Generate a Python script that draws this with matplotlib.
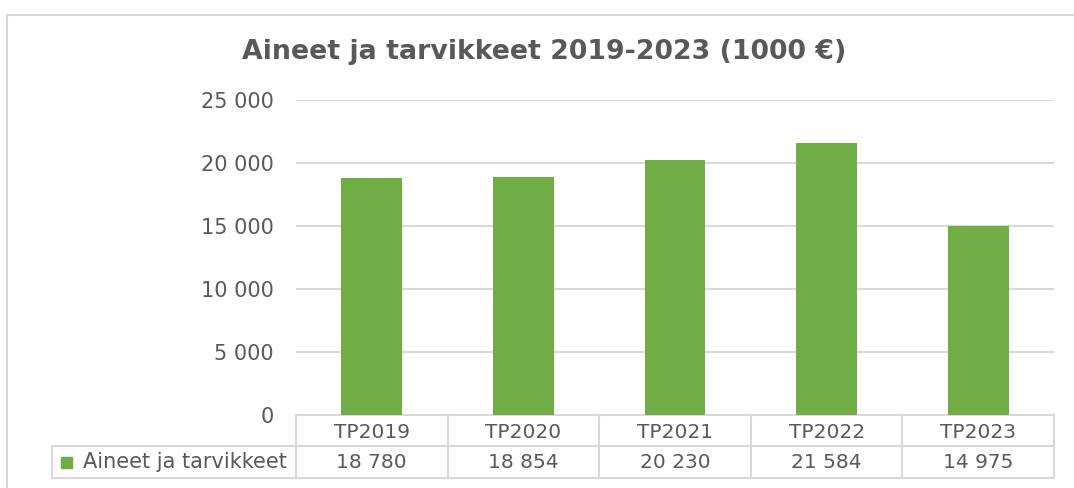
import numpy as np
import matplotlib
matplotlib.use("Agg")
import matplotlib.pyplot as plt
from matplotlib.lines import Line2D
from matplotlib.transforms import blended_transform_factory

# data
categories = ["TP2019", "TP2020", "TP2021", "TP2022", "TP2023"]
values = [18780, 18854, 20230, 21584, 14975]
series_name = "Aineet ja tarvikkeet"
title = "Aineet ja tarvikkeet 2019-2023 (1000 €)"
yticks = [0, 5000, 10000, 15000, 20000, 25000]

GREEN = "#70AD47"
TEXT = "#595959"
GRID = "#D9D9D9"

W, H = 1074, 488
fig = plt.figure(figsize=(W / 100, H / 100), dpi=100)
plt.rcParams["font.family"] = ["DejaVu Sans"]


def fx(px):
    return px / W


def fy(py):
    return 1 - py / H


# outer chart border (cut off at right/bottom)
fig.add_artist(Line2D([fx(7.5), fx(7.5)], [fy(14.5), 0], color=GRID, lw=1.5))
fig.add_artist(Line2D([fx(7.5), 1.01], [fy(14.5), fy(14.5)], color=GRID, lw=1.5))

left, right, top, bottom = 296, 1054, 100, 415
ax = fig.add_axes([fx(left), fy(bottom), fx(right - left), (bottom - top) / H])

x = np.arange(len(categories))
ax.bar(x, values, width=0.40, color=GREEN, zorder=3)
ax.set_xlim(-0.5, len(categories) - 0.5)
ax.set_ylim(0, 25000)
ax.set_yticks(yticks)
ax.set_yticklabels([f"{v:,}".replace(",", " ") for v in yticks])
ax.tick_params(axis="y", length=0, pad=16, labelsize=15, labelcolor=TEXT)
ax.tick_params(axis="x", length=0, labelbottom=False)
ax.grid(axis="y", color=GRID, lw=1.5, zorder=0)
for s in ax.spines.values():
    s.set_visible(False)

fig.text(fx(544), fy(52), title, ha="center", va="center", fontsize=19.3,
         fontweight="bold", color=TEXT)

# data table below the axes
trans = blended_transform_factory(ax.transData, ax.transAxes)
ph = bottom - top
row1 = -(446 - bottom) / ph
row2 = -(478 - bottom) / ph
cat_w = (right - left) / len(categories)
lab_left = -0.5 - (left - 52) / cat_w
kw = dict(color=GRID, lw=1.5, transform=trans, clip_on=False)
ax.add_line(Line2D([-0.5, len(categories) - 0.5], [0, 0], **kw))
ax.add_line(Line2D([lab_left, len(categories) - 0.5], [row1, row1], **kw))
ax.add_line(Line2D([lab_left, len(categories) - 0.5], [row2, row2], **kw))
ax.add_line(Line2D([lab_left, lab_left], [row1, row2], **kw))
for b in np.arange(-0.5, len(categories)):
    ax.add_line(Line2D([b, b], [0, row2], **kw))

for i, (c, v) in enumerate(zip(categories, values)):
    ax.text(i, row1 / 2 - 0.005, c, transform=trans, ha="center", va="center",
            fontsize=14.5, color=TEXT)
    ax.text(i, (row1 + row2) / 2, f"{v:,}".replace(",", " "), transform=trans,
            ha="center", va="center", fontsize=14.5, color=TEXT)

# legend key + series name in the row label cell
ax.text(-0.5 - 9 / cat_w, (row1 + row2) / 2, series_name, transform=trans,
        ha="right", va="center", fontsize=15, color=TEXT)
key_x = lab_left + 9 / cat_w
ax.add_patch(plt.Rectangle((key_x, (row1 + row2) / 2 - 6 / ph), 11 / cat_w, 11 / ph,
                           transform=trans, color=GREEN, clip_on=False))

fig.savefig("out.png", dpi=100)
